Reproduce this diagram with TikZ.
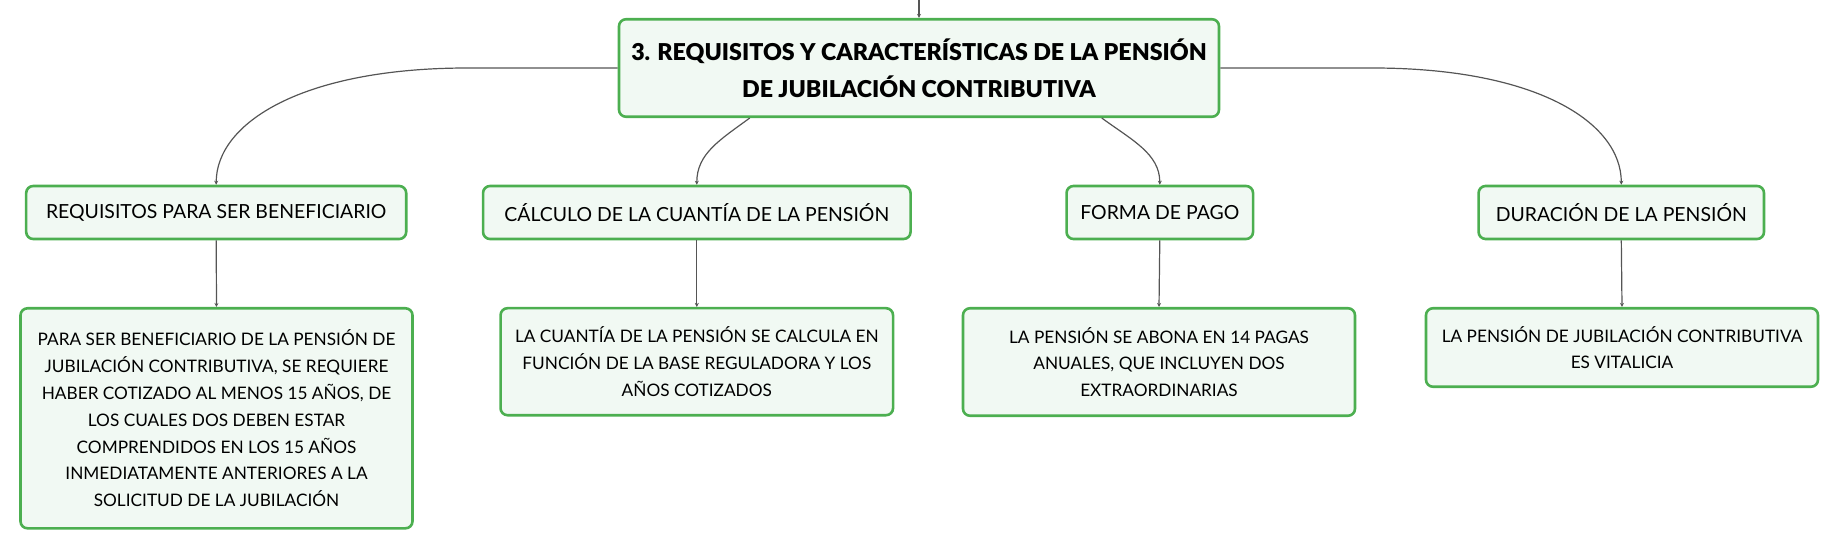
\documentclass[tikz,border=0pt]{standalone}
\usepackage{fontspec}
\setmainfont{Lato}
\newfontfamily\heavyfont{Lato Black}
\usetikzlibrary{arrows.meta}
\definecolor{bordergreen}{HTML}{4CAF50}
\definecolor{fillgreen}{HTML}{F1F9F3}
\definecolor{linegray}{HTML}{555555}
\tikzset{
  box/.style={draw=bordergreen, line width=2.6bp, fill=fillgreen, rounded corners=7bp,
    align=center, inner sep=0pt, text=black},
  midbox/.style={box, font=\fontsize{19.5}{27}\selectfont},
  leafbox/.style={box, font=\fontsize{17.3}{26.9}\selectfont},
  rootbox/.style={box, font=\fontsize{23.3}{36.7}\selectfont\heavyfont},
  conn/.style={draw=linegray, line width=1.2bp, -{Stealth[length=4bp,width=4bp]}}
}
\begin{document}
\begin{tikzpicture}[x=1bp,y=-1bp]
\useasboundingbox (0,0) rectangle (1839,549);
\node[rootbox, minimum width=600bp, minimum height=97.5bp] (root) at (919,68)
  {3. REQUISITOS Y CARACTERÍSTICAS DE LA PENSIÓN\\DE JUBILACIÓN CONTRIBUTIVA};
\node[midbox, minimum width=380bp, minimum height=53bp] (b1) at (216.2,212.5) {REQUISITOS PARA SER BENEFICIARIO};
\node[midbox, minimum width=427.5bp, minimum height=53bp] (b2) at (696.8,212.5) {CÁLCULO DE LA CUANTÍA DE LA PENSIÓN};
\node[midbox, minimum width=186.5bp, minimum height=53bp] (b3) at (1159.8,212.5) {FORMA DE PAGO};
\node[midbox, minimum width=285.4bp, minimum height=53bp] (b4) at (1621.3,212.5) {DURACIÓN DE LA PENSIÓN};
\node[leafbox, minimum width=392bp, minimum height=220bp] (d1) at (216.5,418.3)
  {PARA SER BENEFICIARIO DE LA PENSIÓN DE\\JUBILACIÓN CONTRIBUTIVA, SE REQUIERE\\HABER COTIZADO AL MENOS 15 AÑOS, DE\\LOS CUALES DOS DEBEN ESTAR\\COMPRENDIDOS EN LOS 15 AÑOS\\INMEDIATAMENTE ANTERIORES A LA\\SOLICITUD DE LA JUBILACIÓN};
\node[leafbox, minimum width=392.5bp, minimum height=107bp] (d2) at (696.8,361.7)
  {LA CUANTÍA DE LA PENSIÓN SE CALCULA EN\\FUNCIÓN DE LA BASE REGULADORA Y LOS\\AÑOS COTIZADOS};
\node[leafbox, minimum width=392bp, minimum height=107.5bp] (d3) at (1159,362)
  {LA PENSIÓN SE ABONA EN 14 PAGAS\\ANUALES, QUE INCLUYEN DOS\\EXTRAORDINARIAS};
\node[leafbox, minimum width=392bp, minimum height=78.5bp] (d4) at (1622,347.5)
  {LA PENSIÓN DE JUBILACIÓN CONTRIBUTIVA\\ES VITALICIA};
\coordinate (top) at (919,0);
\draw[conn] (top) -- (root.north);
\draw[conn] (root.west) -- ++(-150,0) .. controls ++(-165,0) and ([yshift=62bp]b1.north) .. (b1.north);
\draw[conn] (root.east) -- ++(152,0) .. controls ++(165,0) and ([yshift=62bp]b4.north) .. (b4.north);
\draw[conn] ([xshift=132bp]root.south west) .. controls ++(-30,22) and ([yshift=31bp]b2.north) .. (b2.north);
\draw[conn] ([xshift=-118.5bp]root.south east) .. controls ++(30,22) and ([yshift=31bp]b3.north) .. (b3.north);
\draw[conn] (b1.south) -- (d1.north);
\draw[conn] (b2.south) -- (d2.north);
\draw[conn] (b3.south) -- (d3.north);
\draw[conn] (b4.south) -- (d4.north);
\end{tikzpicture}
\end{document}
